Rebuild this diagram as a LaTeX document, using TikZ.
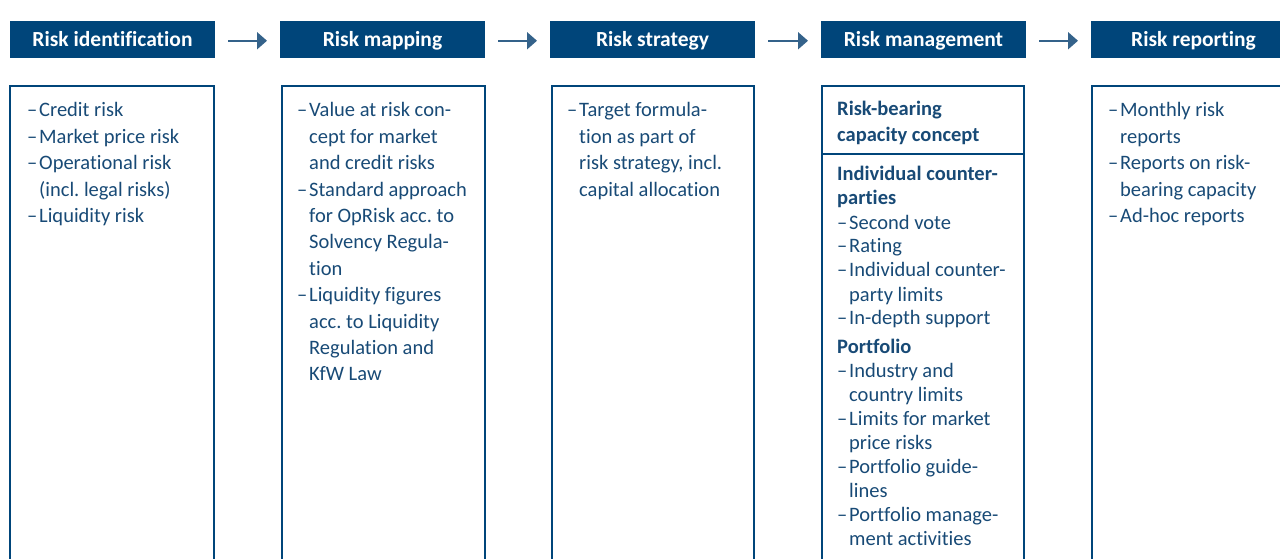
\documentclass[tikz,border=0pt]{standalone}
\usepackage{fontspec}
\setmainfont{Carlito}[Ligatures={NoCommon}]
\usetikzlibrary{arrows.meta}
\frenchspacing

\definecolor{kfwblue}{RGB}{0,69,122}
\definecolor{kfwtext}{RGB}{24,74,118}
\definecolor{kfwarrow}{RGB}{52,98,138}

% dash in front of each list entry
\newcommand\dsh{\makebox[12pt][l]{–}}

\tikzset{
	headbox/.style={fill=kfwblue, text=white, font=\bfseries\fontsize{21.5}{24}\selectfont,
		minimum width=205pt, minimum height=37.5pt, text height=14pt, text depth=0pt,
		inner sep=0pt, outer sep=0pt, anchor=north west},
	listbox/.style={draw=kfwblue, line width=1.8pt, minimum height=520pt,
		inner sep=0pt, outer sep=0pt, anchor=north west},
	listtext/.style={text=kfwtext, font=\fontsize{20.5}{26.4}\selectfont,
		inner sep=0pt, anchor=base west},
	flowarrow/.style={draw=kfwarrow, line width=2pt, -{Triangle[length=10pt,width=17pt]},
		shorten <=13pt, shorten >=13pt}
}

\begin{document}
\begin{tikzpicture}[x=1pt,y=-1pt]
			\clip (0,0) rectangle (1280,559);

			% the five steps
			\node [headbox] (ident) at (10,21) {Risk identification};
			\node [headbox] (mapping) at (280,21) {Risk mapping};
			\node [headbox] (strategy) at (550,21) {Risk strategy};
			\node [headbox] (mgmt) at (821,21) {Risk management};
			\node [headbox] (reporting) at (1091,21) {Risk reporting};

			\begin{scope}[flowarrow]
				\draw ([yshift=-1pt]ident.east) -- ([yshift=-1pt]mapping.west);
				\draw ([yshift=-1pt]mapping.east) -- ([yshift=-1pt]strategy.west);
				\draw ([yshift=-1pt]strategy.east) -- ([yshift=-1pt]mgmt.west);
				\draw ([yshift=-1pt]mgmt.east) -- ([yshift=-1pt]reporting.west);
			\end{scope}

			% frames below the steps
			\node [listbox, minimum width=204pt] (identlist) at (10,86) {};
			\node [listbox, minimum width=203pt] (mappinglist) at (282,86) {};
			\node [listbox, minimum width=202pt] (strategylist) at (552,86) {};
			\node [listbox, minimum width=202pt] (mgmtlist) at (822,86) {};
			\node [listbox, minimum width=204pt] (reportinglist) at (1092,86) {};

			\node [listtext] (identitems) at ([xshift=17pt,yshift=-31pt]identlist.north west) {%
				\begin{tabular}[t]{@{}l@{}l@{}}
					\dsh & Credit risk\\
					\dsh & Market price risk\\
					\dsh & Operational risk\\
					& (incl. legal risks)\\
					\dsh & Liquidity risk
				\end{tabular}};

			\node [listtext] (mappingitems) at ([xshift=15pt,yshift=-31pt]mappinglist.north west) {%
				\begin{tabular}[t]{@{}l@{}l@{}}
					\dsh & Value at risk con-\\
					& cept for market\\
					& and credit risks\\
					\dsh & Standard approach\\
					& for OpRisk acc. to\\
					& Solvency Regula-\\
					& tion\\
					\dsh & Liquidity figures\\
					& acc. to Liquidity\\
					& Regulation and\\
					& KfW Law
				\end{tabular}};

			\node [listtext] (strategyitems) at ([xshift=15pt,yshift=-31pt]strategylist.north west) {%
				\begin{tabular}[t]{@{}l@{}l@{}}
					\dsh & Target formula-\\
					& tion as part of\\
					& risk strategy, incl.\\
					& capital allocation
				\end{tabular}};

			% management frame is split in two parts
			\node [listtext, font=\bfseries\fontsize{20.5}{26}\selectfont] (mgmthead)
				at ([xshift=15pt,yshift=-30pt]mgmtlist.north west) {%
				\begin{tabular}[t]{@{}l@{}}
					Risk-bearing\\
					capacity concept
				\end{tabular}};
			\draw [kfwblue, line width=1.8pt] ([yshift=-68pt]mgmtlist.north west) -- ([yshift=-68pt]mgmtlist.north east);
			\node [listtext, font=\fontsize{20.5}{24}\selectfont] (mgmtitems)
				at ([xshift=15pt,yshift=-95pt]mgmtlist.north west) {%
				\begin{tabular}[t]{@{}l@{}l@{}}
					\multicolumn{2}{@{}l@{}}{\bfseries Individual counter-}\\
					\multicolumn{2}{@{}l@{}}{\bfseries parties}\\
					\dsh & Second vote\\
					\dsh & Rating\\
					\dsh & Individual counter-\\
					& party limits\\
					\dsh & In-depth support\\[5pt]
					\multicolumn{2}{@{}l@{}}{\bfseries Portfolio}\\
					\dsh & Industry and\\
					& country limits\\
					\dsh & Limits for market\\
					& price risks\\
					\dsh & Portfolio guide-\\
					& lines\\
					\dsh & Portfolio manage-\\
					& ment activities
				\end{tabular}};

			\node [listtext] (reportingitems) at ([xshift=16pt,yshift=-31pt]reportinglist.north west) {%
				\begin{tabular}[t]{@{}l@{}l@{}}
					\dsh & Monthly risk\\
					& reports\\
					\dsh & Reports on risk-\\
					& bearing capacity\\
					\dsh & Ad-hoc reports
				\end{tabular}};
		\end{tikzpicture}
\end{document}
